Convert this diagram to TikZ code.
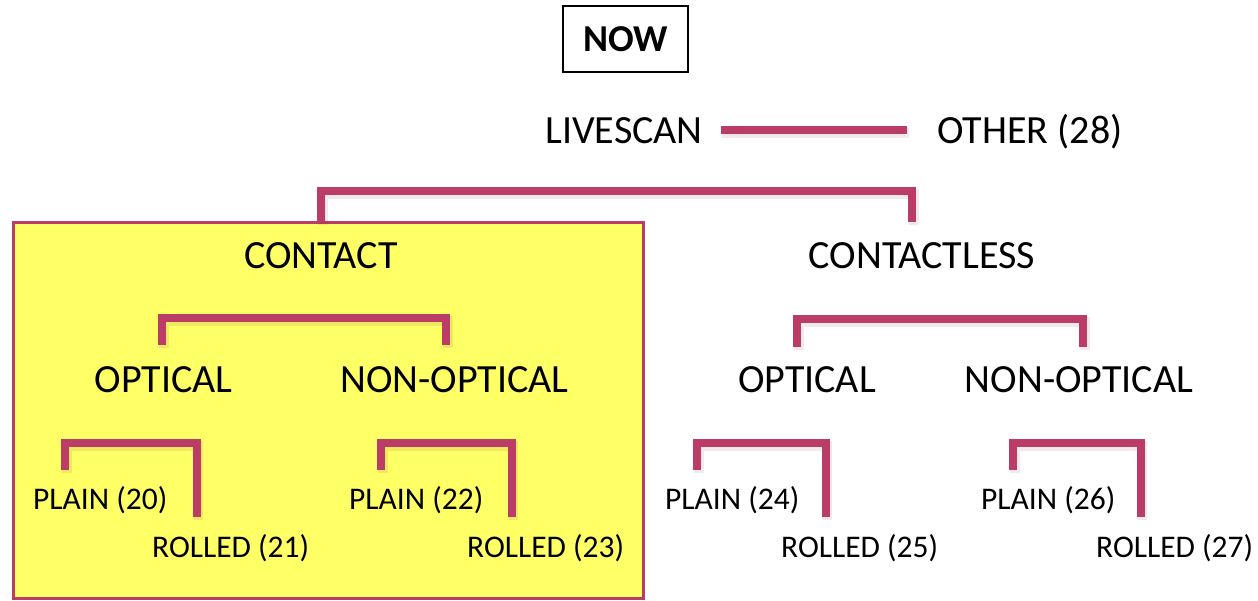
\documentclass[tikz,border=0pt]{standalone}
\usepackage{fontspec}
\setmainfont{Carlito}
\usetikzlibrary{calc}
\definecolor{berry}{HTML}{BC3C68}
\definecolor{lemon}{HTML}{FFFF66}
\tikzstyle{biglabel}=[font=\fontsize{40}{48}\selectfont, inner sep=0pt, anchor=base]
\tikzstyle{smalllabel}=[font=\fontsize{31.5}{38}\selectfont, inner sep=0pt, anchor=base west]
\tikzstyle{bracket}=[draw=berry, line width=8pt,
    preaction={draw=berry!60!black, opacity=0.1, line width=10pt, transform canvas={shift={(1.5pt,-2.5pt)}}}]
\tikzstyle{nowbox}=[draw, line width=1.6pt, minimum width=125pt, minimum height=66pt, inner sep=0pt,
    font=\bfseries\fontsize{38}{46}\selectfont]

\begin{document}
\begin{tikzpicture}[x=1pt, y=-1pt]
    \useasboundingbox (0,0) rectangle (1258,600);

    % yellow panel behind the contact branch
    \draw[fill=lemon, draw=berry, line width=3pt] (13,222) rectangle (643,598);

    \node[nowbox] (now) at (625.5,39) {NOW};

    \node[biglabel] (livescan) at (624,143) {LIVESCAN};
    \node[biglabel] (other) at (1030,143) {OTHER (28)};
    \draw[bracket] ([xshift=18pt]livescan.east) -- ([xshift=-30pt]livescan.east -| other.west);

    \node[biglabel] (contact) at (321,268) {CONTACT};
    \node[biglabel] (contactless) at (922,268) {CONTACTLESS};
    \draw[bracket] ([yshift=46pt]contact.base) -- ++(0,-31) -| ([xshift=-10pt,yshift=46pt]contactless.base);

    \foreach \pos/ \name/ \txt in {{(163.5,392)/optA/OPTICAL}, {(454.5,392)/nonoptA/NON-OPTICAL}, {(807,392)/optB/OPTICAL}, {(1079,392)/nonoptB/NON-OPTICAL}}
        \node[biglabel] (\name) at \pos {\txt};

    \draw[bracket] ([xshift=-1.5pt,yshift=47pt]optA.base) -- ++(0,-27) -| ([xshift=-8.5pt,yshift=47pt]nonoptA.base);
    \draw[bracket] ([xshift=-10pt,yshift=45pt]optB.base) -- ++(0,-28) -| ([xshift=4pt,yshift=45pt]nonoptB.base);

    % plain / rolled pairs
    \foreach \px/\rx/\pn/\rn/\k in {33/152/20/21/a, 349/467/22/23/b, 665/781/24/25/c, 981/1096/26/27/d}
    {
        \node[smalllabel] (plain\k) at (\px,509) {PLAIN (\pn)};
        \node[smalllabel] (rolled\k) at (\rx,557) {ROLLED (\rn)};
        \draw[bracket] ([xshift=32pt,yshift=39pt]plain\k.base west) -- ++(0,-27) -| ([xshift=44.5pt,yshift=40pt]rolled\k.base west);
    }

\end{tikzpicture}
\end{document}
